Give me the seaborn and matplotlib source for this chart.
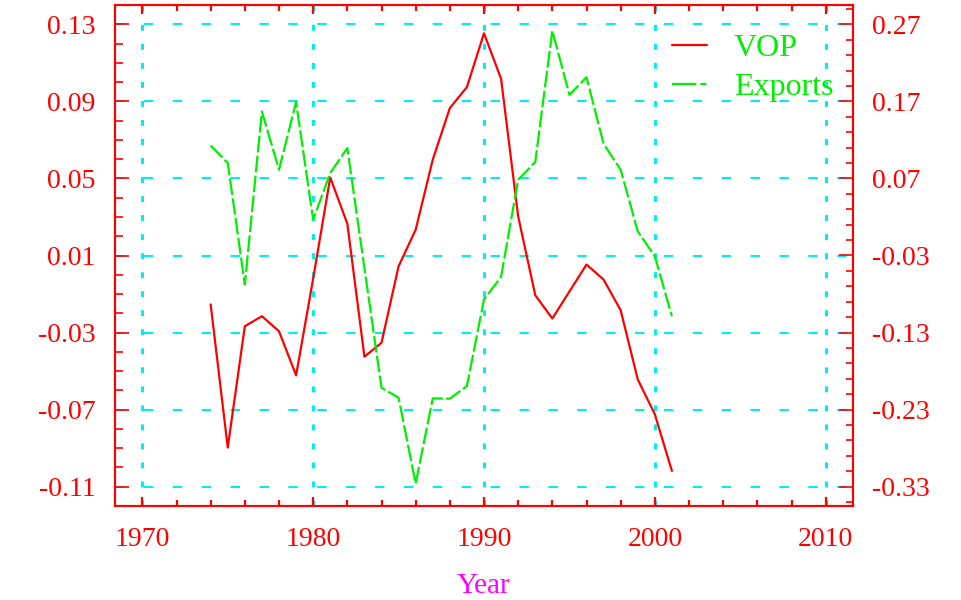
import numpy as np
import pandas as pd
import seaborn as sns
import matplotlib
matplotlib.use("Agg")
import matplotlib.pyplot as plt
from matplotlib.ticker import MultipleLocator, FixedLocator
from matplotlib.lines import Line2D

# ---- data ----
years = list(range(1974, 2002))
vop = [-0.0154, -0.0897, -0.0267, -0.0215, -0.0293, -0.0522, -0.0020, 0.0505,
       0.0265, -0.0425, -0.0353, 0.0044, 0.0234, 0.0597, 0.0865, 0.0974,
       0.1253, 0.1017, 0.0303, -0.0106, -0.0227, -0.0087, 0.0053, -0.0025,
       -0.0184, -0.0543, -0.0724, -0.1018]
exports = [0.1127, 0.0900, -0.0677, 0.1568, 0.0813, 0.1690, 0.0165, 0.0770,
           0.1094, -0.0460, -0.2015, -0.2145, -0.3260, -0.2154, -0.2158, -0.1994,
           -0.0871, -0.0577, 0.0683, 0.0912, 0.2617, 0.1784, 0.2013, 0.1150,
           0.0813, 0.0014, -0.0310, -0.1088]
x_ticks = [1970, 1980, 1990, 2000, 2010]
left_ticks = [-0.11, -0.07, -0.03, 0.01, 0.05, 0.09, 0.13]
left_labels = ["-0.11", "-0.07", "-0.03", "0.01", "0.05", "0.09", "0.13"]
right_ticks = [-0.33, -0.23, -0.13, -0.03, 0.07, 0.17, 0.27]
right_labels = ["-0.33", "-0.23", "-0.13", "-0.03", "0.07", "0.17", "0.27"]

df = pd.DataFrame({"Year": years, "VOP": vop, "Exports": exports})

sns.set_theme(style="white")
plt.rcParams["font.family"] = ["Liberation Serif", "DejaVu Serif"]
plt.rcParams["lines.scale_dashes"] = False

RED = "#ff0000"
GREEN = "#00ee00"
CYAN = "#00eeee"
line_dash = (12, 2.4)
legend_dash = (17.5, 3, 4.3, 10)

fig = plt.figure(figsize=(9.61, 6.0), dpi=100)
ax = fig.add_axes([115 / 961, 1 - 506 / 600, (853 - 115) / 961, (506 - 5) / 600])
ax2 = ax.twinx()

sns.lineplot(data=df, x="Year", y="VOP", ax=ax, color=RED, lw=1.6, zorder=3)
sns.lineplot(data=df, x="Year", y="Exports", ax=ax2, color=GREEN, lw=1.6, zorder=3)
ax2.lines[0].set_dashes(line_dash)

ax.set_xlim(1968.4, 2011.6)
ax.set_ylim(-0.12, 0.14)
ax2.set_ylim(-0.355, 0.295)

ax.xaxis.set_major_locator(FixedLocator(x_ticks))
ax.xaxis.set_minor_locator(MultipleLocator(2))
ax.set_yticks(left_ticks)
ax.set_yticklabels(left_labels)
ax.yaxis.set_minor_locator(FixedLocator(np.round(np.arange(-0.12, 0.1405, 0.01), 3)))
ax2.set_yticks(right_ticks)
ax2.set_yticklabels(right_labels)
ax2.yaxis.set_minor_locator(FixedLocator(np.round(np.arange(-0.35, 0.30, 0.02), 3)))

# vertical grid lines (x) and horizontal grid lines (y)
ax.xaxis.grid(True, which="major", color=CYAN, linestyle=(0, (4.3, 9.4)), lw=2.2)
ax.yaxis.grid(True, which="major", color=CYAN, linestyle=(0, (6.8, 14)), lw=1.5)
ax2.grid(False)
ax.set_axisbelow(True)

fs = 20
ax.tick_params(axis="x", which="both", direction="in", top=True, bottom=True,
               colors=RED, labelsize=fs, width=1.6, pad=15)
ax.tick_params(axis="x", which="major", length=6.5)
ax.tick_params(axis="x", which="minor", length=4.3)
ax.tick_params(axis="y", which="both", direction="in", left=True, right=False,
               colors=RED, labelsize=fs, width=1.2, pad=14)
ax.tick_params(axis="y", which="major", length=10)
ax.tick_params(axis="y", which="minor", length=5.8)
ax2.tick_params(axis="y", which="both", direction="in", right=True, left=False,
                colors=RED, labelsize=fs, width=1.2, pad=14)
ax2.tick_params(axis="y", which="major", length=10)
ax2.tick_params(axis="y", which="minor", length=5)

for a in (ax, ax2):
    for s in a.spines.values():
        s.set_color(RED)
        s.set_linewidth(1.5)
        s.set_visible(True)

ax.set_xlabel("Year", color="#ff00ff", fontsize=21, labelpad=15)
ax.set_ylabel("")
ax2.set_ylabel("")

handles = [Line2D([], [], color=RED, lw=1.6),
           Line2D([], [], color=GREEN, lw=1.6, dashes=legend_dash)]
ax2.legend(handles, ["VOP", "Exports"], loc="upper left",
           bbox_to_anchor=(672 / 961, 1 - 34 / 600), bbox_transform=fig.transFigure,
           frameon=False, fontsize=23, labelcolor=GREEN, handlelength=1.08,
           handletextpad=0.85, borderpad=0, borderaxespad=0, labelspacing=0.3)

fig.savefig("out.png", dpi=100)
